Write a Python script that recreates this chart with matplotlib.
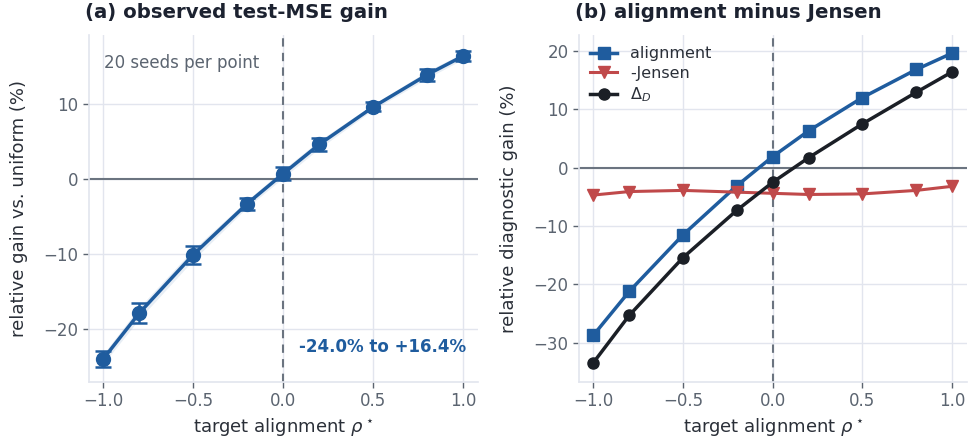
import numpy as np
import matplotlib.pyplot as plt

# target alignment levels
rho = [-1.0, -0.8, -0.5, -0.2, 0.0, 0.2, 0.5, 0.8, 1.0]

# (a) observed test-MSE gain, mean and half-width of error bar
gain = [-24.0, -17.9, -10.1, -3.3, 0.7, 4.6, 9.6, 13.9, 16.4]
gain_err = [1.1, 1.3, 1.2, 0.8, 0.9, 0.9, 0.6, 0.8, 0.7]

# (b) diagnostic decomposition
alignment = [-28.7, -21.2, -11.5, -3.1, 1.9, 6.3, 12.0, 16.8, 19.6]
neg_jensen = [-4.7, -4.1, -3.9, -4.2, -4.4, -4.6, -4.5, -3.9, -3.2]
delta_d = [-33.4, -25.3, -15.4, -7.3, -2.5, 1.7, 7.5, 12.9, 16.4]

BLUE = "#1f5c9e"
RED = "#c0494a"
BLACK = "#1b1f26"
GRID = "#e2e5ee"
TXT = "#5b6470"
TITLE = "#1c2230"

plt.rcParams.update({
    "font.family": "DejaVu Sans",
    "axes.edgecolor": GRID,
    "axes.linewidth": 1.2,
    "xtick.color": TXT,
    "ytick.color": TXT,
    "xtick.labelcolor": TXT,
    "ytick.labelcolor": TXT,
    "xtick.labelsize": 12,
    "ytick.labelsize": 12,
    "axes.labelsize": 13,
    "axes.labelcolor": "#2a2f38",
})

fig = plt.figure(figsize=(9.69, 4.46), dpi=100)
ax1 = fig.add_axes([0.0918, 0.1435, 0.401, 0.778])
ax2 = fig.add_axes([0.5975, 0.1435, 0.400, 0.778])

for ax in (ax1, ax2):
    ax.grid(True, color=GRID, linewidth=1.0)
    ax.set_axisbelow(True)
    ax.spines["top"].set_visible(False)
    ax.spines["right"].set_visible(False)
    ax.tick_params(direction="out", length=4, width=1, color=TXT)
    ax.axhline(0, color="#6b7480", linewidth=1.5, zorder=1)
    ax.axvline(0, color="#6b7480", linewidth=1.5, linestyle=(0, (4, 3)), zorder=1)
    ax.set_xlim(-1.08, 1.08)
    ax.set_xticks([-1.0, -0.5, 0.0, 0.5, 1.0])
    ax.set_xlabel(r"target alignment $\rho^\star$")

# (a)
g = np.array(gain)
e = np.array(gain_err)
ax1.fill_between(rho, g - e * 0.6, g + e * 0.6, color=BLUE, alpha=0.1, linewidth=0, zorder=2)
ax1.errorbar(rho, gain, yerr=gain_err, color=BLUE, marker="o", markersize=10,
             linewidth=2.5, capsize=6, capthick=1.8, elinewidth=1.8, zorder=3)
ax1.set_ylim(-27.1, 19.2)
ax1.set_yticks([-20, -10, 0, 10])
ax1.set_ylabel("relative gain vs. uniform (%)", labelpad=11)
ax1.set_title("(a) observed test-MSE gain", loc="left", fontsize=14.2,
              fontweight="bold", color=TITLE, pad=12, x=-0.01)
ax1.text(0.04, 0.92, "20 seeds per point", transform=ax1.transAxes,
         fontsize=12, color=TXT, va="center", ha="left")
ax1.text(0.97, 0.1, "-24.0% to +16.4%", transform=ax1.transAxes,
         fontsize=12, color=BLUE, fontweight="bold", va="center", ha="right")

# (b)
ax2.plot(rho, alignment, color=BLUE, marker="s", markersize=8, linewidth=2.5,
         label="alignment", zorder=3)
ax2.plot(rho, neg_jensen, color=RED, marker="v", markersize=9, linewidth=2.2,
         label="-Jensen", zorder=3)
ax2.plot(rho, delta_d, color=BLACK, marker="o", markersize=8, linewidth=2.5,
         label=r"$\Delta_D$", zorder=3)
ax2.set_ylim(-36.7, 22.7)
ax2.set_yticks([-30, -20, -10, 0, 10, 20])
ax2.set_ylabel("relative diagnostic gain (%)", labelpad=11)
ax2.set_title("(b) alignment minus Jensen", loc="left", fontsize=14.2,
              fontweight="bold", color=TITLE, pad=12, x=-0.01)
leg = ax2.legend(loc="upper left", frameon=False, fontsize=11.5,
                 borderaxespad=0.3, handlelength=1.7, labelspacing=0.3)
for t in leg.get_texts():
    t.set_color("#2a2f38")

fig.savefig("out.png", dpi=100)
